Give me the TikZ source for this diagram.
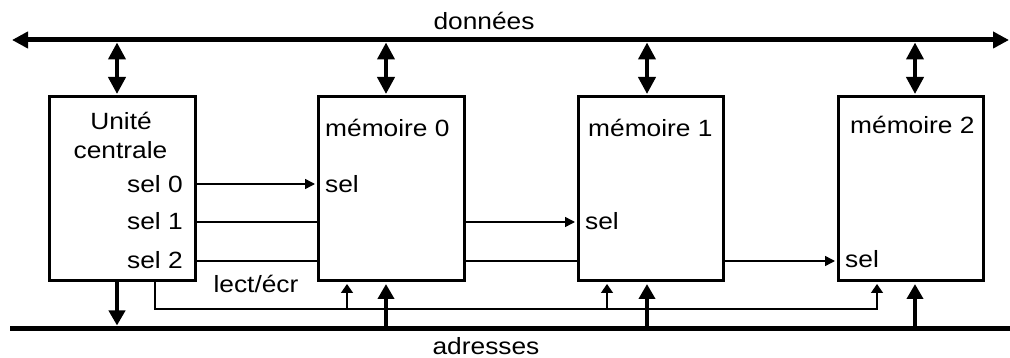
\documentclass[tikz,border=0pt]{standalone}
\usepackage{fontspec}
\setmainfont{Liberation Sans}
\usetikzlibrary{arrows.meta}
\newcommand\hs[1]{\scalebox{1.12}[1]{#1}}
\begin{document}
\begin{tikzpicture}[x=1pt,y=-1pt,
 box/.style={draw, line width=3pt, minimum width=146pt, minimum height=184pt, inner sep=0},
 txt/.style={inner sep=0, font=\fontsize{23.5}{26}\selectfont},
 bus/.style={line width=5pt},
 dbl/.style={line width=4pt, {Triangle[length=17pt,width=17pt]}-{Triangle[length=17pt,width=17pt]}},
 thick arr/.style={line width=4pt, -{Triangle[length=15pt,width=16pt]}},
 sig/.style={line width=1.5pt},
 sigarr/.style={line width=1.5pt, -{Triangle[length=10pt,width=10pt]}, shorten >=1.5pt},
 rw/.style={line width=1.5pt, -{Triangle[length=9pt,width=12pt]}, shorten >=1.5pt},
]
\useasboundingbox (0,0) rectangle (1010,358);
% boxes
\node[box] (cpu) at (122,189) {};
\node[box] (m0) at (391,189) {};
\node[box, minimum width=145pt] (m1) at (650.5,189) {};
\node[box, minimum width=145pt] (m2) at (910.5,189) {};
% buses
\coordinate (dL) at (12,40);
\coordinate (dR) at (1009,40);
\coordinate (aL) at (10,328);
\coordinate (aR) at (1010,328);
\draw[bus, {Triangle[length=16pt,width=16pt]}-{Triangle[length=16pt,width=16pt]}] (dL) -- (dR);
\draw[bus] (aL) -- (aR);
% data connections
\draw[dbl] ([yshift=-2.5pt]dL -| 117,0) -- ([yshift=1.5pt]cpu.north -| 117,0);
\draw[dbl] ([yshift=-2.5pt]dL -| 386,0) -- ([yshift=1.5pt]m0.north -| 386,0);
\draw[dbl] ([yshift=-2.5pt]dL -| 647,0) -- ([yshift=1.5pt]m1.north -| 647,0);
\draw[dbl] ([yshift=-2.5pt]dL -| 915,0) -- ([yshift=1.5pt]m2.north -| 915,0);
% address connections
\draw[thick arr] (cpu.south -| 117,0) -- ([yshift=2.5pt]aL -| 117,0);
\draw[thick arr] (aL -| 386,0) -- ([yshift=-1.5pt]m0.south -| 386,0);
\draw[thick arr] (aL -| 647,0) -- ([yshift=-1.5pt]m1.south -| 647,0);
\draw[thick arr] (aL -| 915,0) -- ([yshift=-1.5pt]m2.south -| 915,0);
% select lines
\draw[sigarr] (cpu.east |- 0,184) -- (m0.west |- 0,184);
\draw[sig] (cpu.east |- 0,222) -- (m0.west |- 0,222);
\draw[sigarr] (m0.east |- 0,222) -- (m1.west |- 0,222);
\draw[sig] (cpu.east |- 0,261) -- (m0.west |- 0,261);
\draw[sig] (m0.east |- 0,261) -- (m1.west |- 0,261);
\draw[sigarr] (m1.east |- 0,261) -- (m2.west |- 0,261);
% read/write
\coordinate (rw0) at (347,309);
\coordinate (rw1) at (607,309);
\draw[rw] (cpu.south -| 155,0) |- (877,309) -- (m2.south -| 877,0);
\draw[rw] (rw0) -- (m0.south -| rw0);
\draw[rw] (rw1) -- (m1.south -| rw1);
% texts
\node[txt, anchor=base] (tdon) at (484,30) {\hs{données}};
\node[txt, anchor=base] (tadr) at (486,354) {\hs{adresses}};
\node[txt, anchor=base] (tu) at (121,130) {\hs{Unité}};
\node[txt, anchor=base] (tc) at (120.5,159) {\hs{centrale}};
\node[txt, anchor=base east] (s0) at (183,193) {\hs{sel 0}};
\node[txt, anchor=base east] (s1) at (183,230) {\hs{sel 1}};
\node[txt, anchor=base east] (s2) at (183,269) {\hs{sel 2}};
\node[txt, anchor=base] (tle) at (256,293) {\hs{lect/écr}};
\node[txt, anchor=base west] (tm0) at (325,137) {\hs{mémoire 0}};
\node[txt, anchor=base west] (tm1) at (588,137) {\hs{mémoire 1}};
\node[txt, anchor=base west] (tm2) at (850,134) {\hs{mémoire 2}};
\node[txt, anchor=base west] (ts0) at (325,193) {\hs{sel}};
\node[txt, anchor=base west] (ts1) at (585,230) {\hs{sel}};
\node[txt, anchor=base west] (ts2) at (845,268) {\hs{sel}};
\end{tikzpicture}
\end{document}
